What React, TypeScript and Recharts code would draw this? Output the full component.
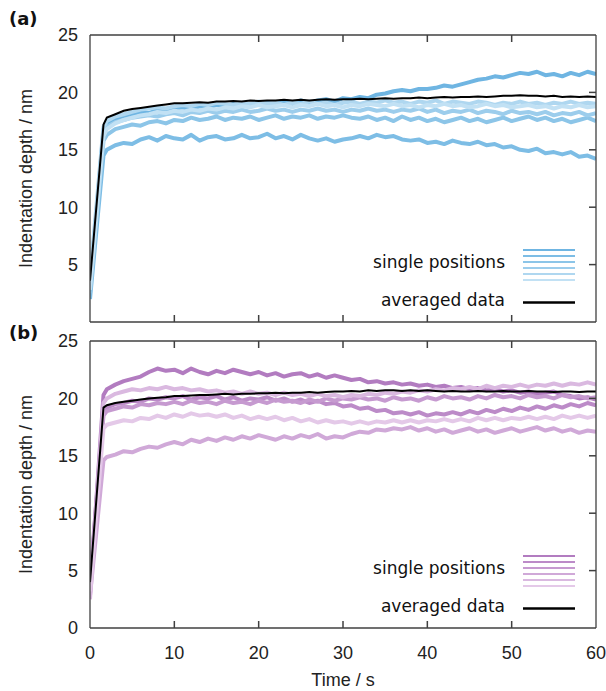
import React from 'react';
import { LineChart, Line, XAxis, YAxis, Legend } from 'recharts';

// time stamps (s)
const time = [
  0, 1.6, 2, 3, 4, 5, 6, 7, 8, 9,
  10, 11, 12, 13, 14, 15, 16, 17, 18, 19,
  20, 21, 22, 23, 24, 25, 26, 27, 28, 29,
  30, 31, 32, 33, 34, 35, 36, 37, 38, 39,
  40, 41, 42, 43, 44, 45, 46, 47, 48, 49,
  50, 51, 52, 53, 54, 55, 56, 57, 58, 59,
  60,
];

const xTicks = [0, 10, 20, 30, 40, 50, 60];
const yTicks = [0, 5, 10, 15, 20, 25];
const innerXTicks = [10, 20, 30, 40, 50];
const innerYTicks = [5, 10, 15, 20];

// panel (a) - single positions, nm
const posA1 = [
  2.0, 14.5, 15.0, 15.4, 15.6, 15.5, 15.9, 16.1, 15.8, 16.2,
  16.0, 15.9, 16.3, 15.8, 16.1, 16.2, 15.9, 16.0, 16.3, 16.0,
  16.1, 16.4, 16.0, 16.2, 15.9, 16.3, 16.0, 15.8, 16.0, 15.7,
  15.9, 16.0, 16.2, 16.0, 16.3, 16.1, 16.2, 15.9, 15.8, 15.9,
  15.6, 15.7, 15.5, 15.8, 15.6, 15.5, 15.7, 15.4, 15.5, 15.2,
  15.3, 15.0, 14.9, 15.1, 14.7, 14.8, 14.6, 14.8, 14.4, 14.5,
  14.2,
];
const posA2 = [
  3.0, 16.8, 17.2, 17.6, 17.9, 18.1, 18.3, 18.2, 18.5, 18.4,
  18.6, 18.7, 18.5, 18.8, 18.7, 18.9, 18.8, 19.0, 18.8, 19.0,
  18.9, 19.1, 19.0, 19.2, 19.0, 19.3, 19.1, 19.3, 19.4, 19.2,
  19.5, 19.4, 19.6, 19.5, 19.8, 19.9, 20.1, 20.2, 20.1, 20.3,
  20.3, 20.4, 20.6, 20.5, 20.7, 20.9, 21.1, 21.2, 21.4, 21.3,
  21.5, 21.7, 21.6, 21.8, 21.5, 21.6, 21.4, 21.7, 21.5, 21.8,
  21.6,
];
const posA3 = [
  2.5, 15.8, 16.3, 16.8, 17.0, 17.2, 17.1, 17.4, 17.5, 17.3,
  17.6, 17.5, 17.8, 17.6, 17.7, 17.9, 17.6, 17.8, 17.7, 17.9,
  17.6, 17.8, 18.0, 17.7, 17.9, 17.8, 18.0, 17.7, 17.9, 17.8,
  18.0, 17.8, 17.7, 17.9, 17.6, 17.8, 17.5, 17.9, 17.6, 17.8,
  17.5, 17.7, 17.4, 17.6, 17.8, 17.5, 17.7, 17.4, 17.6, 17.8,
  17.5, 17.7, 17.9, 17.6, 17.8, 17.5, 17.7, 17.4, 17.6, 17.8,
  17.5,
];
const posA4 = [
  3.2, 16.5, 17.0, 17.4, 17.6, 17.8, 17.9, 18.0, 17.9, 18.1,
  18.2, 18.0, 18.3, 18.2, 18.4, 18.2, 18.4, 18.3, 18.5, 18.3,
  18.4, 18.6, 18.4, 18.5, 18.3, 18.5, 18.4, 18.6, 18.4, 18.5,
  18.3, 18.5, 18.4, 18.6, 18.4, 18.5, 18.3, 18.5, 18.4, 18.6,
  18.3, 18.5, 18.2, 18.4, 18.3, 18.5, 18.2, 18.4, 18.3, 18.1,
  18.4, 18.2, 18.3, 18.1, 18.3, 18.0, 18.2, 18.1, 18.3, 18.0,
  18.2,
];
const posA5 = [
  3.8, 17.0, 17.5, 17.9, 18.1, 18.3, 18.5, 18.6, 18.7, 18.6,
  18.8, 18.9, 18.8, 19.0, 18.9, 19.1, 19.0, 18.9, 19.1, 19.0,
  19.2, 19.0, 19.1, 18.9, 19.1, 19.0, 19.2, 19.0, 19.1, 18.9,
  19.1, 19.2, 19.0, 19.2, 19.1, 19.3, 19.1, 19.2, 19.0, 19.2,
  19.1, 19.3, 19.0, 19.2, 19.1, 19.0, 19.2, 19.1, 18.9, 19.1,
  19.0, 19.2, 19.0, 19.1, 18.9, 19.1, 19.0, 19.2, 19.0, 19.1,
  19.0,
];
const posA6 = [
  2.8, 16.2, 16.8, 17.3, 17.6, 17.8, 18.0, 18.1, 18.3, 18.2,
  18.4, 18.3, 18.5, 18.4, 18.6, 18.5, 18.7, 18.6, 18.8, 18.7,
  18.9, 18.7, 18.8, 18.9, 18.7, 18.9, 18.8, 19.0, 18.8, 18.9,
  18.7, 18.9, 18.8, 19.0, 18.9, 18.8, 19.0, 18.8, 18.9, 18.7,
  18.9, 18.8, 19.0, 18.8, 18.9, 18.7, 18.8, 19.0, 18.8, 18.9,
  18.7, 18.8, 18.9, 18.7, 18.8, 18.6, 18.8, 18.7, 18.9, 18.7,
  18.8,
];
const avgA = [
  3.6, 17.2, 17.8, 18.1, 18.4, 18.55, 18.65, 18.75, 18.85, 18.95,
  19.05, 19.05, 19.1, 19.15, 19.1, 19.2, 19.2, 19.25, 19.2, 19.3,
  19.25, 19.3, 19.3, 19.35, 19.3, 19.35, 19.3, 19.35, 19.4, 19.35,
  19.4, 19.4, 19.45, 19.4, 19.45, 19.5, 19.45, 19.5, 19.5, 19.55,
  19.5, 19.55, 19.6, 19.55, 19.6, 19.6, 19.65, 19.6, 19.65, 19.7,
  19.7, 19.75, 19.7, 19.7, 19.65, 19.7, 19.6, 19.65, 19.6, 19.65,
  19.6,
];

// panel (b) - single positions, nm
const posB1 = [
  3.0, 20.3, 20.8, 21.2, 21.5, 21.7, 21.9, 22.3, 22.6, 22.4,
  22.5, 22.2, 22.6, 22.3, 22.1, 22.4, 22.2, 22.5, 22.3, 22.1,
  22.3, 22.0, 22.2, 21.9, 22.1, 22.2, 21.9, 22.1, 21.8, 22.0,
  21.8, 21.6, 21.7, 21.4, 21.5, 21.3, 21.4, 21.2, 21.3, 21.1,
  21.2, 21.0, 21.1, 20.9, 21.0, 20.8, 20.9, 20.7, 20.8, 20.6,
  20.7, 20.5, 20.6, 20.4, 20.5, 20.6, 20.3, 20.2, 20.0, 20.1,
  19.9,
];
const posB2 = [
  2.8, 14.6, 14.9, 15.1, 15.4, 15.3, 15.6, 15.8, 15.7, 16.0,
  16.2, 16.0, 16.4, 16.2, 16.5, 16.3, 16.6, 16.4, 16.7, 16.5,
  16.8, 16.6, 16.4, 16.7, 16.5, 16.8, 16.6, 16.9, 16.5, 16.7,
  16.6, 16.9, 17.1, 17.0, 17.3, 17.2, 17.4, 17.3, 17.5, 17.2,
  17.4, 17.1, 17.3, 17.0, 17.2, 17.4, 17.1, 17.3, 17.0, 17.2,
  17.4, 17.1, 17.3, 17.5, 17.2, 17.4, 17.1, 17.3, 17.0, 17.2,
  17.1,
];
const posB3 = [
  3.5, 18.8, 19.2, 19.5, 19.6, 19.8, 19.7, 20.0, 19.9, 20.1,
  20.0, 20.2, 19.9, 20.1, 20.0, 20.2, 19.9, 20.1, 19.8, 20.0,
  19.9, 20.1, 19.8, 20.0, 19.7, 19.9, 19.6, 19.8, 19.5, 19.6,
  19.3, 19.4, 19.1, 19.2, 18.9, 19.0, 18.7, 18.8, 18.6, 18.8,
  18.5, 18.7, 18.6, 18.8, 18.6, 18.9, 18.7, 19.0, 18.8, 19.1,
  18.9, 19.2, 19.0, 19.3, 19.1, 19.4, 19.2, 19.5, 19.3, 19.6,
  19.4,
];
const posB4 = [
  4.2, 18.5, 18.9, 19.1, 19.3, 19.2, 19.5, 19.4, 19.6, 19.5,
  19.7, 19.5, 19.8, 19.6, 19.7, 19.5, 19.8, 19.6, 19.7, 19.5,
  19.8, 19.6, 19.9, 19.7, 19.8, 19.6, 19.9, 19.7, 20.0, 19.8,
  20.0, 19.9, 20.1, 19.9, 20.0, 19.8, 20.1, 19.9, 20.0, 19.8,
  20.1, 19.9, 20.2, 20.0, 20.1, 19.9, 20.2, 20.0, 20.3, 20.1,
  20.2, 20.0, 20.3, 20.1, 20.2, 20.0, 20.3, 20.1, 20.2, 20.0,
  20.1,
];
const posB5 = [
  2.5, 19.6, 20.0, 20.4, 20.6, 20.8, 20.7, 20.9, 20.8, 21.0,
  20.8, 20.9, 20.7, 20.8, 20.6, 20.7, 20.5, 20.6, 20.4, 20.6,
  20.4, 20.5, 20.3, 20.5, 20.3, 20.4, 20.2, 20.4, 20.2, 20.3,
  20.1, 20.3, 20.2, 20.4, 20.3, 20.5, 20.4, 20.6, 20.5, 20.7,
  20.6, 20.8, 20.7, 20.9, 20.8, 21.0, 20.8, 21.1, 20.9, 21.1,
  21.0, 21.2, 21.0, 21.2, 21.1, 21.3, 21.1, 21.3, 21.2, 21.4,
  21.2,
];
const posB6 = [
  3.2, 17.4, 17.7, 17.9, 18.1, 18.0, 18.3, 18.2, 18.5, 18.3,
  18.6, 18.4, 18.7, 18.5, 18.6, 18.4, 18.6, 18.3, 18.5, 18.2,
  18.4, 18.2, 18.4, 18.1, 18.3, 18.0, 18.2, 17.9, 18.1, 17.9,
  18.0, 17.8, 18.0, 17.8, 18.0, 17.9, 18.1, 17.9, 18.1, 17.9,
  18.1, 18.0, 18.2, 18.0, 18.2, 18.0, 18.3, 18.1, 18.3, 18.1,
  18.3, 18.2, 18.4, 18.2, 18.4, 18.2, 18.5, 18.3, 18.5, 18.3,
  18.5,
];
const avgB = [
  4.0, 19.2, 19.4, 19.6, 19.7, 19.8, 19.9, 20.0, 20.05, 20.1,
  20.2, 20.2, 20.25, 20.3, 20.3, 20.35, 20.4, 20.35, 20.4, 20.4,
  20.45, 20.45, 20.5, 20.45, 20.5, 20.5, 20.55, 20.5, 20.55, 20.6,
  20.6, 20.65, 20.6, 20.7, 20.65, 20.7, 20.7, 20.65, 20.7, 20.65,
  20.7, 20.65, 20.6, 20.65, 20.6, 20.6, 20.65, 20.6, 20.6, 20.65,
  20.6, 20.6, 20.65, 20.6, 20.6, 20.55, 20.6, 20.6, 20.55, 20.6,
  20.6,
];

const blues = ['#7dbde5', '#6fb5e2', '#8cc5e8', '#9ccdec', '#afd7f0', '#c2e1f4'];
const bluesLegend = ['#6fb5e2', '#7dbde5', '#8cc5e8', '#9ccdec', '#afd7f0', '#c2e1f4'];
const purples = ['#b27cc0', '#d0a9d8', '#bc8bc8', '#c69ad0', '#dab9e0', '#e4c9e8'];
const purplesLegend = ['#b27cc0', '#bc8bc8', '#c69ad0', '#d0a9d8', '#dab9e0', '#e4c9e8'];

const buildRows = (singles: number[][], avg: number[]) =>
  time.map((t, i) => {
    const row: Record<string, number> = { t, avg: avg[i] };
    singles.forEach((s, k) => {
      row[`p${k}`] = s[i];
    });
    return row;
  });

const rowsA = buildRows([posA1, posA2, posA3, posA4, posA5, posA6], avgA);
const rowsB = buildRows([posB1, posB2, posB3, posB4, posB5, posB6], avgB);

const FRAME = '#404040';
const SANS = '"Liberation Sans", Arial, sans-serif';
const LEGEND_FONT = '"DejaVu Sans", Verdana, sans-serif';

// plot-area geometry (matches the chart margins below)
const PLOT_LEFT = 90;
const PLOT_RIGHT = 596;
const PLOT_H = 287;
const PANEL_TOPS = [35, 341];
const TICK_LEN = 7;

const LegendBox = ({ colors }: { colors: string[] }) => (
  <svg width={260} height={80} style={{ display: 'block' }}>
    <text x={175} y={28} textAnchor="end" fontFamily={LEGEND_FONT} fontSize={17} fill="#111">
      single positions
    </text>
    {colors.map((c, i) => (
      <line key={c} x1={193} x2={245} y1={10 + i * 6} y2={10 + i * 6} stroke={c} strokeWidth={2.2} />
    ))}
    <text x={175} y={66} textAnchor="end" fontFamily={LEGEND_FONT} fontSize={17} fill="#111">
      averaged data
    </text>
    <line x1={193} x2={245} y1={62.5} y2={62.5} stroke="#000" strokeWidth={2.5} />
  </svg>
);

// gnuplot-style inward tick marks on bottom, top and right edges
const FrameTicks = () => (
  <g stroke={FRAME} strokeWidth={1.5}>
    {PANEL_TOPS.map((top) => {
      const bottom = top + PLOT_H;
      return (
        <g key={top}>
          {innerXTicks.map((v) => {
            const x = PLOT_LEFT + (v / 60) * (PLOT_RIGHT - PLOT_LEFT);
            return (
              <g key={v}>
                <line x1={x} x2={x} y1={top} y2={top + TICK_LEN} />
                <line x1={x} x2={x} y1={bottom} y2={bottom - TICK_LEN} />
              </g>
            );
          })}
          {innerYTicks.map((v) => {
            const y = bottom - (v / 25) * PLOT_H;
            return <line key={v} x1={PLOT_RIGHT} x2={PLOT_RIGHT - TICK_LEN} y1={y} y2={y} />;
          })}
        </g>
      );
    })}
  </g>
);

type PanelProps = {
  rows: Record<string, number>[];
  colors: string[];
  legendColors: string[];
  height: number;
  bottomMargin: number;
  showXLabels: boolean;
  legendTop: number;
};

const Panel = ({ rows, colors, legendColors, height, bottomMargin, showXLabels, legendTop }: PanelProps) => (
  <LineChart
    width={606}
    height={height}
    data={rows}
    margin={{ top: 35, right: 10, bottom: bottomMargin, left: 0 }}
  >
    {/* labelled bottom axis (hidden in the upper panel) */}
    <XAxis
      xAxisId="x"
      dataKey="t"
      type="number"
      domain={[0, 60]}
      ticks={xTicks}
      allowDataOverflow
      hide={!showXLabels}
      height={63}
      axisLine={false}
      tickLine={false}
      tickSize={0}
      tickMargin={18}
      tick={{ fontSize: 18, fill: '#222', fontFamily: SANS }}
      label={{ value: 'Time / s', position: 'insideBottom', offset: 5, fontSize: 18, fill: '#222', fontFamily: SANS }}
    />
    {/* frame lines: bottom, top, right */}
    <XAxis
      xAxisId="xm"
      orientation="bottom"
      mirror
      dataKey="t"
      type="number"
      domain={[0, 60]}
      ticks={xTicks}
      allowDataOverflow
      stroke={FRAME}
      strokeWidth={1.3}
      tickLine={false}
      tick={false}
    />
    <XAxis
      xAxisId="top"
      orientation="top"
      mirror
      dataKey="t"
      type="number"
      domain={[0, 60]}
      ticks={xTicks}
      allowDataOverflow
      stroke={FRAME}
      strokeWidth={1.3}
      tickLine={false}
      tick={false}
    />
    <YAxis
      yAxisId="l"
      type="number"
      domain={[0, 25]}
      ticks={yTicks}
      allowDataOverflow
      width={90}
      stroke={FRAME}
      strokeWidth={1.3}
      tickLine={false}
      tickSize={0}
      tickMargin={12}
      tick={{ fontSize: 18, fill: '#222', fontFamily: SANS }}
      label={{
        value: 'Indentation depth / nm',
        angle: -90,
        position: 'insideLeft',
        offset: 26,
        fontSize: 18,
        fill: '#222',
        fontFamily: SANS,
        style: { textAnchor: 'middle' },
      }}
    />
    <YAxis
      yAxisId="r"
      orientation="right"
      mirror
      type="number"
      domain={[0, 25]}
      ticks={yTicks}
      allowDataOverflow
      stroke={FRAME}
      strokeWidth={1.3}
      tickLine={false}
      tick={false}
    />
    {colors.map((c, k) => (
      <Line
        key={`p${k}`}
        xAxisId="x"
        yAxisId="l"
        dataKey={`p${k}`}
        type="linear"
        stroke={c}
        strokeWidth={4}
        strokeLinejoin="round"
        dot={false}
        isAnimationActive={false}
      />
    ))}
    <Line
      xAxisId="x"
      yAxisId="l"
      dataKey="avg"
      type="linear"
      stroke="#000"
      strokeWidth={2}
      dot={false}
      isAnimationActive={false}
    />
    <Legend
      layout="horizontal"
      align="center"
      verticalAlign="middle"
      wrapperStyle={{ left: 330, top: legendTop, width: 260, height: 80 }}
      content={() => <LegendBox colors={legendColors} />}
    />
  </LineChart>
);

export default function App() {
  return (
    <div style={{ position: 'absolute', left: 0, top: 0, width: 606, height: 691, background: '#fff' }}>
      <div style={{ position: 'absolute', left: 0, top: 0 }}>
        <Panel
          rows={rowsA}
          colors={blues}
          legendColors={bluesLegend}
          height={330}
          bottomMargin={8}
          showXLabels={false}
          legendTop={240}
        />
      </div>
      <div style={{ position: 'absolute', left: 0, top: 306 }}>
        <Panel
          rows={rowsB}
          colors={purples}
          legendColors={purplesLegend}
          height={385}
          bottomMargin={0}
          showXLabels={true}
          legendTop={240}
        />
      </div>
      <svg
        width={606}
        height={691}
        style={{ position: 'absolute', left: 0, top: 0, pointerEvents: 'none' }}
      >
        <FrameTicks />
        <text x={9} y={25} fontFamily={LEGEND_FONT} fontWeight="bold" fontSize={18} fill="#111">
          (a)
        </text>
        <text x={9} y={339} fontFamily={LEGEND_FONT} fontWeight="bold" fontSize={18} fill="#111">
          (b)
        </text>
      </svg>
    </div>
  );
}
